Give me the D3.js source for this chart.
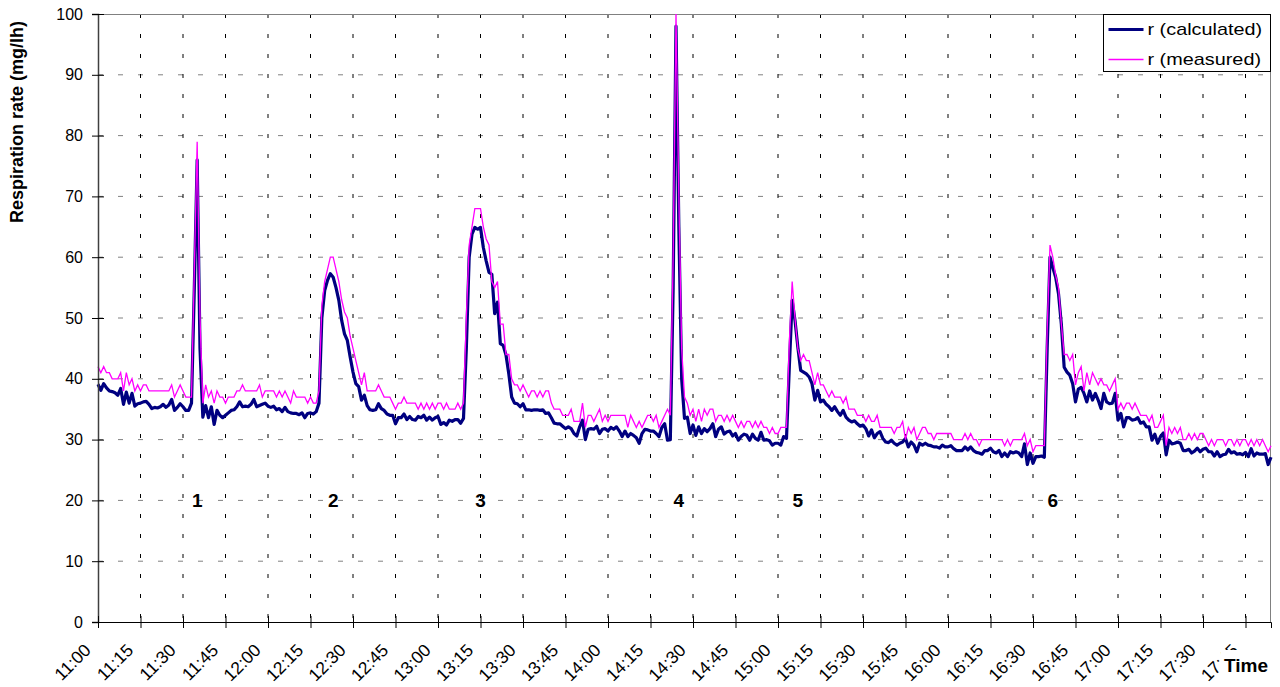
<!DOCTYPE html>
<html>
<head>
<meta charset="utf-8">
<script src="https://cdn.jsdelivr.net/npm/d3@7"></script>
<style>
  body { margin: 0; background: #fff; }
  svg { display: block; font-family: "Liberation Sans", Arial, sans-serif; }
</style>
</head>
<body>
<div id="container"></div>
<script>
// one value per minute, starting 11:00 (index = minutes after 11:00)
var measured = [
  42,41,42,41,41,40,40,40,41,38,41,39,40,38,39,
  38,39,39,38,38,38,38,38,38,38,38,39,37,38,39,
  38,37,37,37,58,79,50,36,39,37,38,36,38,37,37,
  36,37,37,37,38,38,39,38,38,38,38,38,39,37,38,
  38,38,38,37,38,37,38,37,36,38,37,37,37,37,36,
  37,36,36,38,52,56,58,60,60,58,56,53,51,50,47,
  45,43,41,39,41,38,38,38,38,39,38,37,37,37,36,
  35,36,36,37,36,36,36,36,35,36,35,36,35,36,35,
  36,36,35,36,35,35,35,36,35,36,50,62,65,68,68,
  68,65,63,62,56,55,56,49,49,44,44,40,39,39,38,
  39,38,37,38,38,37,38,37,38,38,36,35,35,35,34,
  34,34,35,33,33,33,36,32,34,34,33,34,35,33,34,
  33,34,34,34,34,34,34,32,34,33,32,33,32,33,34,
  34,33,34,32,33,34,35,34,60,100,70,45,37,36,34,
  35,33,35,33,35,34,35,35,33,34,34,33,34,33,34,
  33,32,33,32,33,33,32,33,32,33,32,32,31,32,31,
  31,32,32,32,46,56,50,45,43,44,43,43,41,39,41,
  39,39,38,37,38,37,37,37,36,37,35,35,35,34,34,
  34,33,34,33,33,34,32,32,32,32,32,31,32,32,33,
  30,32,31,32,30,31,32,32,31,31,30,31,31,31,31,
  31,31,30,30,30,30,31,30,31,30,30,29,30,30,30,
  30,30,30,30,30,29,30,29,30,30,30,30,31,29,30,
  28,29,29,29,29,48,62,60,57,55,49,44,44,43,44,
  39,41,42,38,41,39,41,40,39,40,39,39,38,39,40,
  35,36,35,36,36,35,36,35,34,34,34,33,34,32,32,
  33,34,29,32,31,32,31,32,30,30,31,30,31,30,31,
  31,30,29,30,29,30,30,30,29,30,30,29,30,29,30,
  30,29,30,29,30,29,30,29,28,29
];

var calculated = [
  39.1,38.1,39.2,38.5,38,37.9,37.7,37.3,38.4,35.8,37.8,36,37.6,35.5,35.9,
  36,36.2,36.3,35.8,35.1,35.3,35.2,35.4,35.8,35.3,35.7,36.6,34.8,35.3,35.9,
  35.4,34.8,34.8,36,55,76,45,33.7,35.6,33.6,35.4,32.5,34.8,34,33.6,
  34,34.4,34.8,34.9,35.4,36.2,35.4,35.5,35.4,35.8,36.6,35.4,35.6,35.8,36,
  35.5,35.3,35.5,34.9,35.1,34.6,35.3,34.6,34.4,34.3,34.3,34.1,34.4,33.6,34.3,
  34.4,34.2,34.6,36,50,54.5,56.2,57.3,56.7,55,52.9,49.6,47.4,46.3,43.6,
  41.1,39.2,38.7,36.5,37.3,35.6,34.9,34.8,34.9,35.9,35.1,34.8,34.2,34,34,
  32.6,33.6,33.6,34.2,33.3,33.8,33.3,33.2,33.8,33.6,34,33.2,33.7,33.2,33.6,
  33.8,32.5,32.8,32.4,33.2,33,33.3,33.3,32.7,33.5,45,60,63.8,64.9,64.6,
  64.9,61.6,59.4,57.5,57.2,50.7,52.6,45.8,45.5,43.9,40.8,37,36,35.9,35.4,
  35.9,34.9,34.9,34.8,34.9,34.9,34.8,34.9,34.3,34.4,33.6,32.7,32.6,32.6,32.2,
  31.8,32.1,31.8,31,30.6,32.1,33.2,30,31.7,31.8,31.7,32.2,31,31.7,31.8,
  31.4,32,31.7,32.1,31.4,30.5,31.4,30.5,31,30.7,30.3,29.4,31,31.7,31.6,
  31.4,31.4,31,30.5,32,32.6,29.9,30,55,98,65,40,33.5,33.7,31,
  32.4,30.7,32.1,31,31.8,31.3,31.8,32.6,30.5,31.7,32.1,30.9,31.3,31.4,30.6,
  31,29.9,30.5,30.9,30.7,29.9,30.9,30.2,29.9,31.2,29.9,30,29.8,29.1,29.4,
  29.4,29.1,30.5,30.2,42,52.9,49.6,45.2,41.4,41.1,40.8,40.3,39.2,36.5,38.1,
  36.2,36.5,35.8,35.4,34.8,35.4,34.6,34,34.8,33.7,33.2,32.9,33.1,32.6,32.2,
  32.4,31.8,30.6,31.6,30.3,31,31.3,30.2,29.6,29.5,29.9,29.4,29.1,29.4,29.6,
  30.2,28.8,29.6,29.1,28,29.4,29.1,29.4,29.1,29,28.8,28.8,28.6,29.1,28.8,
  28.8,29,28.5,28.2,28.2,28.2,28.8,28.3,28.8,28.2,27.9,27.8,27.6,28.2,28.2,
  28.6,28,27.8,28.2,27.2,27.8,27.2,28,27.8,28,27.8,27.2,29.3,25.9,27.8,
  26.1,27.2,27.2,27.3,27.1,45,60,58.3,56.7,54,49,41.9,41.1,40.6,39.2,
  36.2,38.3,38.6,37.6,36.2,38,36.5,37.6,36.5,35.1,37.6,36.2,35.9,36,37.6,
  33.2,34.3,32.1,33.6,33.6,33.2,33.3,33.6,32.7,32.9,32.1,32.1,29.9,30.9,29.4,
  30.5,31.1,27.5,29.9,29.3,29.4,29.6,29.4,28.2,28.2,28.4,27.8,28.1,28.6,28,
  28.4,28.6,28,28,27.3,28,27.2,27.5,27.6,28.4,27.8,28,27.6,27.7,27.5,
  27.9,27.2,28.5,27.3,27.8,27.6,27.6,27.7,25.9,27.1
];

// x tick labels, one every 15 minutes
var timeLabels = ["11:00","11:15","11:30","11:45","12:00","12:15","12:30","12:45",
  "13:00","13:15","13:30","13:45","14:00","14:15","14:30","14:45","15:00","15:15",
  "15:30","15:45","16:00","16:15","16:30","16:45","17:00","17:15","17:30","17:45"];
var yTicks = [0,10,20,30,40,50,60,70,80,90,100];

// numbered events under the peaks (minute index, label)
var eventMinutes = [35, 83, 135, 205, 247, 337];
var eventLabels = ["1","2","3","4","5","6"];

var seriesNames = ["r (calculated)", "r (measured)"];

// margins
var margin = { top: 14, right: 9, bottom: 65, left: 98 },
    width = 1280 - margin.left - margin.right,
    height = 687 - margin.top - margin.bottom;

var svg = d3.select("#container")
  .append("svg")
    .attr("width", 1280)
    .attr("height", 687);

var g = svg.append("g")
    .attr("transform", "translate(" + margin.left + "," + margin.top + ")");

// scales
var xScale = d3.scaleLinear()
    .domain([0, measured.length - 1])
    .range([0, width]);

var yScale = d3.scaleLinear()
    .domain([0, 100])
    .range([height, 0]);

var tickIdx = timeLabels.map(function(d, i) { return i * 15; });

// horizontal grid (grey dashes)
g.selectAll(".hgrid")
  .data(yTicks.slice(1, -1))
  .enter().append("line")
    .attr("x1", 0).attr("x2", width)
    .attr("y1", function(d) { return yScale(d); })
    .attr("y2", function(d) { return yScale(d); })
    .attr("stroke", "#808080")
    .attr("stroke-width", 1)
    .attr("stroke-dasharray", "5,15");

// vertical grid (black dashes)
g.selectAll(".vgrid")
  .data(tickIdx.slice(1))
  .enter().append("line")
    .attr("x1", function(d) { return xScale(d); })
    .attr("x2", function(d) { return xScale(d); })
    .attr("y1", 0).attr("y2", height)
    .attr("stroke", "#000")
    .attr("stroke-width", 1)
    .attr("stroke-dasharray", "4,16");

// plot border top and right
g.append("path")
    .attr("d", "M0,0.5H" + (width - 0.5) + "V" + height)
    .attr("fill", "none")
    .attr("stroke", "#808080")
    .attr("stroke-width", 1);

// lines
var line = d3.line()
    .x(function(d, i) { return xScale(i); })
    .y(function(d) { return yScale(d); });

g.append("path")
    .datum(calculated)
    .attr("fill", "none")
    .attr("stroke", "#000080")
    .attr("stroke-width", 3.2)
    .attr("stroke-linejoin", "round")
    .attr("d", line);

g.append("path")
    .datum(measured)
    .attr("fill", "none")
    .attr("stroke", "#ff00ff")
    .attr("stroke-width", 1.3)
    .attr("d", line);

// y axis
var yAxis = g.append("g")
    .call(d3.axisLeft(yScale).tickValues(yTicks).tickSize(6).tickPadding(9));
yAxis.select(".domain").attr("stroke", "#404040").attr("stroke-width", 1.5);
yAxis.selectAll(".tick line").attr("x1", 6).attr("stroke", "#000");
yAxis.selectAll(".tick text")
    .style("font-size", "16px")
    .attr("fill", "#000");

// x axis
var xAxis = g.append("g")
    .attr("transform", "translate(0," + height + ")")
    .call(d3.axisBottom(xScale)
      .tickValues(tickIdx)
      .tickFormat(function(d, i) { return timeLabels[i]; })
      .tickSize(6));
xAxis.select(".domain").attr("stroke", "#000");
xAxis.selectAll(".tick line").attr("y1", -6).attr("stroke", "#000");
xAxis.selectAll(".tick text")
    .style("font-size", "17.5px")
    .attr("fill", "#000")
    .attr("text-anchor", "end")
    .attr("dy", "0.35em")
    .attr("transform", "translate(-11,25) rotate(-45)")
    .attr("y", 0)
    .attr("x", 0);

// event numbers
g.selectAll(".event")
  .data(eventMinutes)
  .enter().append("text")
    .attr("x", function(d) { return xScale(d); })
    .attr("y", yScale(20))
    .attr("dy", "0.35em")
    .attr("text-anchor", "middle")
    .style("font-size", "19px")
    .style("font-weight", "bold")
    .text(function(d, i) { return eventLabels[i]; });

// y axis title
svg.append("text")
    .attr("transform", "translate(23,122) rotate(-90)")
    .attr("text-anchor", "middle")
    .style("font-size", "18px")
    .style("font-weight", "bold")
    .text("Respiration rate (mg/lh)");

// x axis title, white box hides part of the last label
svg.append("rect")
    .attr("x", 1221).attr("y", 650)
    .attr("width", 52).attr("height", 34)
    .attr("fill", "#fff");
svg.append("text")
    .attr("x", 1268).attr("y", 672)
    .attr("text-anchor", "end")
    .style("font-size", "19px")
    .style("font-weight", "bold")
    .text("Time");

// legend
var legend = svg.append("g")
    .attr("transform", "translate(1103.5,14.5)");
legend.append("rect")
    .attr("width", 167).attr("height", 57)
    .attr("fill", "#fff")
    .attr("stroke", "#000");
var legColors = ["#000080", "#ff00ff"],
    legWidths = [3.2, 1.3];
seriesNames.forEach(function(name, i) {
  var ly = 15 + i * 30;
  legend.append("line")
      .attr("x1", 5).attr("x2", 40)
      .attr("y1", ly).attr("y2", ly)
      .attr("stroke", legColors[i])
      .attr("stroke-width", legWidths[i]);
  legend.append("text")
      .attr("transform", "translate(44," + ly + ") scale(1.24,1)")
      .attr("dy", "0.35em")
      .style("font-size", "16px")
      .text(name);
});
</script>
</body>
</html>
